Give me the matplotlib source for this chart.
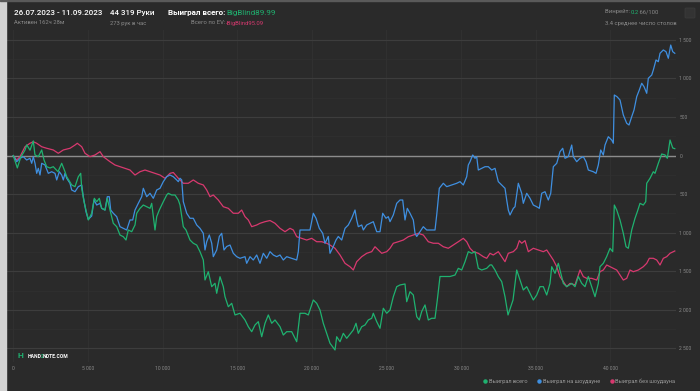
import matplotlib
matplotlib.use("Agg")
from matplotlib import pyplot as plt
from matplotlib.lines import Line2D
from matplotlib.ticker import FuncFormatter, MultipleLocator
from matplotlib.patches import Rectangle, FancyBboxPatch

plt.rcParams['font.family'] = ['Roboto', 'DejaVu Sans']

################################# data (hands, BB) #################################
green_hands = [0, 270, 500, 780, 900, 1120, 1340, 1450, 1675, 1903, 2057, 2238, 2459, 2680, 2995, 3243, 3464, 3578,
               3913, 4134, 4355, 4516, 4583, 4737, 5025, 5253, 5427, 5588, 5762, 5923, 6144, 6298, 6479, 6700, 6928,
               7149, 7370, 7551, 7705, 7933, 8154, 8268, 8489, 8710, 8938, 9159, 9273, 9494, 9608, 9782, 10050, 10278,
               10385, 10613, 10834, 11055, 11169, 11390, 11571, 11839, 12060, 12288, 12509, 12730, 12844, 13065, 13293,
               13514, 13628, 13849, 14070, 14184, 14405, 14633, 14854, 15189, 15524, 15745, 15973, 16194, 16415, 16643,
               16864, 17085, 17313, 17534, 17869, 18090, 18318, 18653, 18988, 19209, 19544, 19765, 20100, 20328, 20549,
               20770, 20998, 21219, 21554, 21668, 21889, 22110, 22338, 22780, 22961, 23115, 23343, 23564, 23785, 24013,
               24120, 24348, 24569, 24790, 25018, 25239, 25460, 25688, 25909, 26244, 26358, 26579, 26800, 27028, 27202,
               27363, 27584, 27805, 28033, 28254, 28408, 28589, 28924, 29259, 29594, 29815, 30043, 30264, 30485, 30713,
               30934, 31155, 31383, 31718, 31939, 32053, 32274, 32495, 32723, 32944, 33145, 33480, 33728, 33949, 34170,
               34398, 34619, 34840, 35068, 35289, 35510, 35738, 35959, 36073, 36294, 36515, 36629, 36850, 37078, 37413,
               37634, 37855, 38083, 38304, 38525, 38753, 38974, 39195, 39309, 39530, 39758, 39979, 40160, 40267, 40428,
               40649, 40870, 41051, 41205, 41433, 41654, 41808, 41989, 42210, 42371, 42438, 42659, 42880, 42994, 43215,
               43443, 43664, 43818, 44000, 44180, 44319]
green_bb = [0, -160, -20, 70, 140, 70, 190, 10, -14, 73, -57, -144, -161, -144, -209, -100, -209, -274,
            -381, -403, -274, -230, -424, -597, -835, -748, -554, -598, -554, -684, -706, -554, -706, -878, -922,
            -1030, -1052, -1095, -965, -987, -900, -748, -684, -641, -663, -684, -619, -965, -792, -706, -598, -511,
            -489, -511, -511, -576, -641, -922, -965, -1095, -1137, -1160, -1246, -1354, -1613, -1506, -1700,
            -1656, -1786, -1571, -1700, -1830, -1960, -1916, -2067, -2045, -2132, -2219, -2284, -2197, -2154, -2349,
            -2175, -2067, -2175, -2132, -2219, -2327, -2284, -2284, -2414, -2045, -2045, -2067, -1873, -1916, -2003,
            -2175, -2305, -2434, -2521, -2349, -2414, -2305, -2370, -2262, -2175, -2305, -2219, -2197, -2132, -2110,
            -2045, -2154, -2240, -1980, -2045, -2003, -1830, -1700, -1678, -1665, -1895, -1765, -1808, -2089, -2132,
            -2022, -1937, -2132, -2110, -2110, -1873, -1568, -1568, -1568, -1549, -1462, -1484, -1376, -1246, -1267,
            -1246, -1462, -1484, -1462, -1418, -1418, -1484, -1570, -1635, -1830, -2067, -1873, -1484, -1614, -1743,
            -1700, -1786, -1873, -1808, -1700, -1700, -1808, -1657, -1441, -1527, -1397, -1484, -1657, -1700, -1657,
            -1700, -1568, -1657, -1700, -1568, -1700, -1830, -1657, -1441, -1397, -1309, -1202, -1246, -641, -706,
            -835, -1008, -1182, -1202, -965, -813, -728, -619, -641, -598, -359, -294, -209, -230, -100,
            21, 8, -35, 202, 99, 90]

blue_hands = [0, 228, 449, 670, 898, 1119, 1233, 1340, 1454, 1568, 1675, 1789, 1903, 2124, 2345, 2573, 2794, 2908,
              3082, 3243, 3350, 3464, 3578, 3799, 3913, 4134, 4355, 4583, 4690, 4871, 5025, 5253, 5407, 5588, 5809,
              5923, 6144, 6298, 6432, 6526, 6700, 6928, 7149, 7370, 7598, 7819, 8000, 8154, 8375, 8603, 8710, 8938,
              9159, 9380, 9608, 9829, 9943, 10050, 10278, 10499, 10720, 10948, 11055, 11169, 11283, 11390, 11618,
              11839, 12060, 12288, 12509, 12730, 12844, 12958, 13132, 13293, 13400, 13628, 13802, 13963, 14117, 14298,
              14519, 14740, 14968, 15189, 15524, 15638, 15859, 16080, 16308, 16529, 16750, 16978, 17199, 17420, 17648,
              17869, 18090, 18318, 18653, 18988, 19095, 19209, 19544, 19879, 20100, 20281, 20502, 20730, 20884, 21105,
              21219, 21440, 21621, 21775, 22003, 22224, 22445, 22673, 22894, 23008, 23115, 23343, 23450, 23678, 23899,
              24120, 24348, 24569, 24750, 24971, 25125, 25239, 25460, 25688, 25909, 26090, 26244, 26398, 26579, 26800,
              26914, 27028, 27249, 27470, 27698, 27919, 28254, 28368, 28542, 28810, 29038, 29373, 29708, 29929, 30150,
              30378, 30485, 30599, 30780, 30934, 31048, 31155, 31383, 31604, 31825, 32053, 32274, 32495, 32723, 32944,
              33058, 33165, 33279, 33500, 33614, 33835, 34063, 34170, 34398, 34619, 34840, 35068, 35242, 35403, 35624,
              35845, 36006, 36180, 36408, 36629, 36810, 36964, 37185, 37413, 37520, 37748, 37969, 38190, 38371, 38525,
              38860, 39041, 39195, 39356, 39530, 39644, 39865, 40093, 40200, 40267, 40448, 40649, 40870, 41098, 41252,
              41433, 41587, 41768, 41942, 42103, 42257, 42438, 42545, 42773, 42880, 43061, 43215, 43329, 43550, 43731,
              43885, 44046, 44180, 44319]
blue_bb = [0, -79, -35, -14, -57, -35, -100, -14, -100, -230, -165, -252, -100, -122, -230, -209, -230, -316,
           -209, -252, -316, -230, -294, -359, -446, -468, -403, -381, -533, -728, -827, -783, -576, -641, -619,
           -684, -706, -533, -533, -706, -748, -792, -922, -943, -965, -835, -835, -706, -619, -533, -424, -533,
           -489, -554, -446, -424, -381, -338, -274, -252, -274, -316, -338, -294, -316, -598, -748,
           -813, -813, -900, -943, -1008, -1224, -1117, -1030, -1137, -1311, -1224, -1049, -1008, -1224, -1179,
           -1160, -1267, -1311, -1332, -1311, -1397, -1311, -1354, -1289, -1397, -1267, -1332, -1246, -1289, -1311,
           -1289, -1354, -1311, -1332, -1354, -1246, -965, -965, -965, -748, -813, -943, -1008, -1137, -1049,
           -1267, -1179, -1095, -1049, -1095, -943, -900, -813, -706, -835, -922, -900, -965, -900, -878,
           -857, -987, -987, -748, -813, -792, -857, -770, -619, -576, -576, -835, -684, -748, -835,
           -1008, -1049, -987, -922, -965, -965, -965, -770, -424, -359, -403, -381, -359, -338, -381,
           -274, -122, -79, 8, -35, -14, -187, -165, -144, -144, -187, -165, -338, -381, -424,
           -576, -706, -770, -684, -663, -359, -489, -619, -489, -554, -641, -663, -684, -489, -468,
           -576, -489, -144, -100, 51, 95, -35, -14, 137, -14, -79, -35, -14, -79, -187,
           -209, -230, -122, 73, 8, 137, 245, 202, 160, 786, 764, 721, 527, 419, 397,
           505, 591, 764, 851, 938, 894, 808, 1003, 1045, 1110, 1240, 1218, 1327, 1370, 1348,
           1262, 1434, 1348, 1327]

red_hands = [0, 228, 449, 784, 1119, 1340, 1568, 1903, 2238, 2680, 3015, 3350, 3799, 4134, 4288, 4583, 4804, 5139,
             5474, 5809, 6030, 6479, 6814, 7149, 7484, 7819, 8154, 8489, 8824, 9159, 9494, 9829, 10164, 10385, 10499,
             10720, 11055, 11390, 11725, 12060, 12395, 12730, 12958, 13179, 13400, 13735, 14070, 14405, 14740, 15075,
             15303, 15524, 15745, 15973, 16308, 16529, 16864, 17199, 17534, 17869, 18204, 18539, 18760, 18988, 19323,
             19658, 19993, 20328, 20663, 20998, 21219, 21554, 21889, 22224, 22559, 22780, 23008, 23343, 23678, 24013,
             24234, 24455, 24683, 25018, 25239, 25460, 25795, 26130, 26465, 26800, 27135, 27470, 27805, 28140, 28475,
             28810, 29145, 29480, 29815, 30150, 30378, 30599, 30820, 31155, 31490, 31718, 31939, 32160, 32495, 32723,
             32944, 33165, 33500, 33728, 33902, 34063, 34284, 34505, 34840, 35175, 35510, 35738, 35959, 36180, 36408,
             36629, 36850, 37078, 37299, 37634, 37969, 38190, 38418, 38753, 39088, 39309, 39530, 39758, 39979, 40200,
             40428, 40649, 40870, 41098, 41319, 41540, 41875, 42210, 42438, 42612, 42880, 43108, 43329, 43550, 43778,
             43999, 44319]
red_bb = [0, -57, -14, 115, 160, 180, 160, 115, 95, 73, 30, 73, 95, 137, 160, 115, 30, -14,
          8, 51, -14, -79, -122, -144, -165, -187, -252, -209, -187, -209, -230, -252, -294, -252, -230,
          -219, -294, -359, -359, -316, -359, -381, -446, -533, -511, -576, -663, -684, -748, -748,
          -706, -792, -835, -922, -900, -878, -857, -842, -878, -943, -987, -943, -965, -1052, -1073,
          -1095, -1073, -1117, -1117, -1137, -1160, -1202, -1289, -1397, -1441, -1484, -1376, -1311, -1267, -1246,
          -1182, -1224, -1267, -1246, -1202, -1137, -1117, -1095, -1052, -1030, -1008, -1030, -1117, -1137, -1137,
          -1182, -1202, -1160, -1117, -1073, -1117, -1202, -1246, -1267, -1311, -1332, -1267, -1289, -1246, -1311,
          -1376, -1267, -1246, -1202, -1103, -1137, -1103, -1246, -1202, -1224, -1246, -1224, -1289, -1354, -1441,
          -1570, -1635, -1700, -1657, -1678, -1484, -1570, -1592, -1592, -1614, -1506, -1484, -1419, -1441, -1462,
          -1484, -1549, -1614, -1592, -1484, -1506, -1484, -1441, -1397, -1332, -1332, -1354, -1419, -1332, -1311,
          -1267, -1237]

series_labels = ["Выиграл всего", "Выиграл на шоудауне", "Выиграл без шоудауна"]
series_colors = ["#1fb270", "#3f8fe0", "#d8396f"]

x_ticks = [0, 5000, 10000, 15000, 20000, 25000, 30000, 35000, 40000]
y_ticks = [-2500, -2000, -1500, -1000, -500, 0, 500, 1000, 1500]

################################# figure #################################
W, H = 700, 391
BG = "#2a2a2a"
GREY = "#8a8a8a"
fig = plt.figure(figsize=(W / 100, H / 100), dpi=100, facecolor=BG)

def fx(x):
    return x / W

def fy(y):
    return 1 - y / H

# light border on the left / top like the screenshot
fig.patches.append(Rectangle((0, 0), fx(6), 1, transform=fig.transFigure, color="#d2d2d2", zorder=0))
fig.patches.append(Rectangle((0, fy(1)), 1, 1 / H, transform=fig.transFigure, color="#5a5a5a", zorder=0))

ax = fig.add_axes([fx(7), fy(362), fx(676 - 7), (362 - 30) / H])
ax.set_facecolor(BG)
for s in ax.spines.values():
    s.set_visible(False)

ax.set_xlim(-422, 44400)
ax.set_ylim(-2677, 1629)

ax.set_xticks(x_ticks)
ax.set_yticks(y_ticks)
ax.yaxis.set_minor_locator(MultipleLocator(250))
fmt = FuncFormatter(lambda v, p: f"{abs(int(v)):,}".replace(",", " "))
ax.xaxis.set_major_formatter(fmt)
ax.yaxis.set_major_formatter(fmt)
ax.yaxis.tick_right()
ax.tick_params(axis="both", which="both", length=0, colors=GREY, labelsize=3.6)
ax.tick_params(axis="y", pad=2.5)
ax.tick_params(axis="x", pad=3)
ax.grid(True, axis="y", which="major", color="#3d3d3d", lw=0.8)
ax.grid(True, axis="y", which="minor", color="#313131", lw=0.5)
ax.grid(True, axis="x", which="major", color="#323232", lw=0.6)
ax.axhline(0, color="#8c8c8c", lw=1.0, zorder=2)

ax.plot(red_hands, red_bb, color=series_colors[2], lw=0.9, zorder=3)
ax.plot(blue_hands, blue_bb, color=series_colors[1], lw=0.9, zorder=4)
ax.plot(green_hands, green_bb, color=series_colors[0], lw=0.9, zorder=5)

handles = [Line2D([], [], ls="none", marker="o", ms=2.2, color=c) for c in series_colors]
fig.legend(handles, series_labels, loc="center right", bbox_to_anchor=(fx(678), fy(381)), ncol=3,
           frameon=False, fontsize=4.1, labelcolor="#9a9a9a", handletextpad=0.1, columnspacing=1.6,
           handlelength=1.0, borderpad=0)

def chain(prev, s, **kw):
    # put text s right after text prev
    return ax.annotate(s, xy=(1, 0.5), xycoords=prev, xytext=(-0.6, 0), textcoords="offset points",
                       va="center", ha="left", annotation_clip=False, **kw)

################################# header #################################
fig.text(fx(14), fy(13), "26.07.2023 - 11.09.2023", color="white", fontsize=5.8, fontweight="medium", va="center")
fig.text(fx(14), fy(23), "Активен 162ч 28м", color=GREY, fontsize=4.2, va="center")
fig.text(fx(110), fy(13), "44 319 Руки", color="white", fontsize=5.8, fontweight="medium", va="center")
fig.text(fx(110), fy(23), "273 рук в час", color=GREY, fontsize=4.2, va="center")
fig.text(fx(225), fy(13), "Выиграл всего:", color="white", fontsize=5.8, fontweight="bold", va="center", ha="right")
fig.text(fx(226), fy(13), "BigBlind89.99", color="#1fb270", fontsize=5.8, va="center")
fig.text(fx(225), fy(23), "Всего по EV:", color=GREY, fontsize=4.2, va="center", ha="right")
fig.text(fx(226), fy(23), "-BigBlind95.09", color="#d8396f", fontsize=4.2, va="center")

t = fig.text(fx(605), fy(12), "Винрейт:\u00a0", color=GREY, fontsize=4.2, va="center")
t = chain(t, "0.2", color="#1fb270", fontsize=4.2)
chain(t, "\u00a066/100", color=GREY, fontsize=4.2)
fig.text(fx(605), fy(23), "3.4 среднее число столов", color=GREY, fontsize=4.2, va="center")
fig.patches.append(FancyBboxPatch((fx(685), fy(18)), fx(10), 10 / H, boxstyle="round,pad=0,rounding_size=0.002",
                                  transform=fig.transFigure, fc="#333333", ec="#3c3c3c", lw=0.5))

# logo
fig.text(fx(17), fy(356), "H", color="#1fb270", fontsize=6, fontweight="bold", va="center")
t = fig.text(fx(28), fy(356), "HAND", color="white", fontsize=3.6, fontweight="bold", va="center")
t = chain(t, "2", color="#1fb270", fontsize=3.6, fontweight="bold")
chain(t, "NOTE.COM", color="white", fontsize=3.6, fontweight="bold")

fig.savefig("out.png", dpi=100, facecolor=BG)
